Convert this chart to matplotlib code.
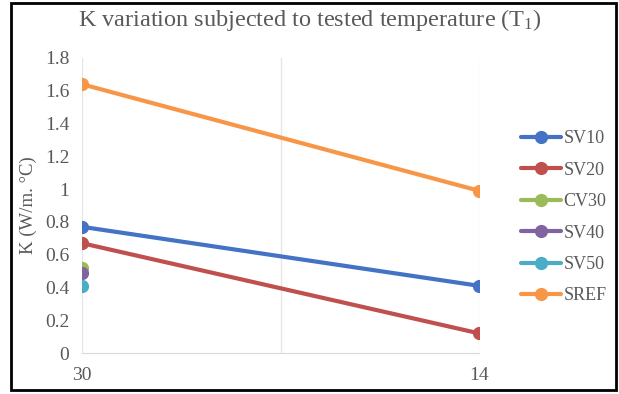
import matplotlib
matplotlib.use("Agg")
import matplotlib.pyplot as plt
from matplotlib.patches import Rectangle

categories = ["30", "14"]
series = ["SV10", "SV20", "CV30", "SV40", "SV50", "SREF"]
values = {
    "SV10": [0.77, 0.41],
    "SV20": [0.67, 0.12],
    "CV30": [0.52, None],
    "SV40": [0.49, None],
    "SV50": [0.41, None],
    "SREF": [1.64, 0.99],
}
colors = {
    "SV10": "#4472C4",
    "SV20": "#C0504D",
    "CV30": "#9BBB59",
    "SV40": "#8064A2",
    "SV50": "#4BACC6",
    "SREF": "#F79646",
}
yticks = [0, 0.2, 0.4, 0.6, 0.8, 1, 1.2, 1.4, 1.6, 1.8]

plt.rcParams["font.family"] = ["Liberation Serif", "DejaVu Serif"]
plt.rcParams["mathtext.fontset"] = "custom"
plt.rcParams["mathtext.rm"] = "Liberation Serif"
plt.rcParams["mathtext.it"] = "Liberation Serif:italic"
txt = "#595959"

fig = plt.figure(figsize=(6.19, 3.94), dpi=100)
ax = fig.add_axes([82 / 619, 1 - 353 / 394, (479 - 82) / 619, (353 - 58) / 394])

xs = list(range(len(categories)))
for name in series:
    pts = [(x, v) for x, v in zip(xs, values[name]) if v is not None]
    ax.plot([p[0] for p in pts], [p[1] for p in pts], color=colors[name],
            lw=3, marker="o", ms=8.5, label=name, solid_capstyle="round", zorder=3)

ax.set_xlim(0, 1)
ax.set_ylim(0, 1.8)
ax.set_yticks(yticks)
ax.set_yticklabels([f"{t:g}" for t in yticks])
ax.set_xticks(xs)
ax.set_xticklabels(categories)
for gx in [0, 0.5, 1]:
    ax.axvline(gx, color="#E6E6E6", lw=1, zorder=0)
for s in ["top", "right", "left"]:
    ax.spines[s].set_visible(False)
ax.spines["bottom"].set_color("#D9D9D9")
ax.tick_params(axis="both", length=0, labelsize=14, colors=txt)
ax.tick_params(axis="x", pad=10)
ax.tick_params(axis="y", pad=9)
ax.set_ylabel("K (W/m. °C)", fontsize=13.5, color=txt, va="center")
ax.yaxis.set_label_coords((28 - 82) / 397, 0.5)

fig.text(0.5, 1 - 20 / 394, "K variation subjected to tested temperature (T$_1$)",
         ha="center", va="center", fontsize=17.5, color=txt)

leg = fig.legend(loc="upper left", bbox_to_anchor=(505 / 619, 1 - 114 / 394),
                 frameon=False, fontsize=13, labelspacing=0.8, handlelength=2.2,
                 handletextpad=0.15, labelcolor=txt)

fig.patches.append(Rectangle((11 / 619, 4 / 394), 605 / 619, 387 / 394,
                             transform=fig.transFigure, fill=False,
                             edgecolor="black", lw=2))

fig.savefig("out.png", dpi=100)
